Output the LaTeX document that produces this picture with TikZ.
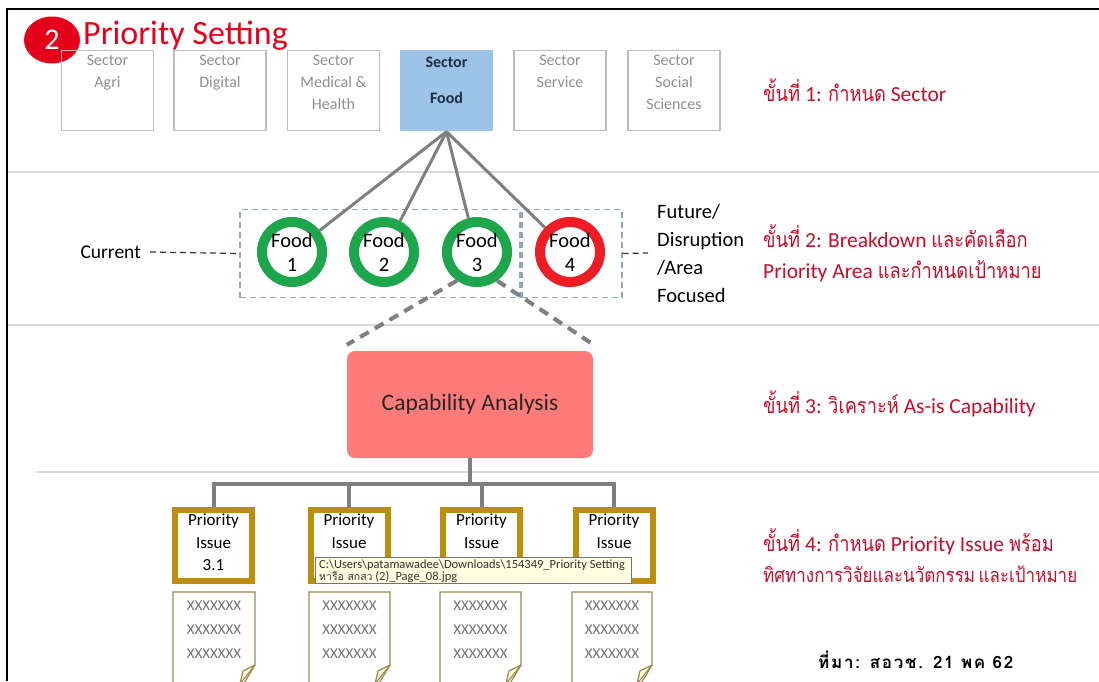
\documentclass[tikz,border=0pt]{standalone}
\usepackage{fontspec}
\setmainfont{Carlito}
\newfontfamily\thaifont[Script=Thai,WordSpace=0.6,FakeStretch=0.85]{Loma}
\newfontfamily\tipthai[Script=Thai]{Loma}
\newfontfamily\srcfont[Script=Thai,LetterSpace=10]{Loma}
\newcommand\tf[1]{{\thaifont #1}}
\usetikzlibrary{calc,shapes.geometric}
\definecolor{sgray}{HTML}{8F8F8F}
\definecolor{sborder}{HTML}{BDBDBD}
\definecolor{foodfill}{HTML}{9DC3E6}
\definecolor{foodtxt}{HTML}{1F2D45}
\definecolor{stepred}{HTML}{C40E2A}
\definecolor{titlered}{HTML}{E4001B}
\definecolor{ringgreen}{HTML}{1EA64C}
\definecolor{ringred}{HTML}{EE1C24}
\definecolor{linegray}{HTML}{7F7F7F}
\definecolor{dashblue}{HTML}{8DA5BE}
\definecolor{capfill}{HTML}{FF7B7B}
\definecolor{gold}{HTML}{BC8E0C}
\definecolor{paperline}{HTML}{9C8A4E}
\definecolor{tipfill}{HTML}{FFFFE1}
\definecolor{sepgray}{HTML}{D9D9D9}
\tikzset{
  sectbox/.style={draw=sborder, line width=1.3pt, minimum width=92pt, minimum height=80pt, inner sep=0pt},
  secttxt/.style={anchor=north, text=sgray, font=\fontsize{16}{22}\selectfont, align=center, inner sep=0pt},
  ring/.style={circle, line width=10pt, minimum size=60pt, inner sep=0pt, align=center, font=\fontsize{20.5}{24}\selectfont},
  conn/.style={draw=linegray, line width=3pt},
  dbox/.style={draw=dashblue, line width=1.2pt, dash pattern=on 6pt off 4pt, inner sep=0pt},
  blackdash/.style={draw=black!80, line width=1.2pt, dash pattern=on 6pt off 4pt},
  gdash/.style={draw=linegray, line width=4pt, dash pattern=on 10pt off 7pt},
  tree/.style={draw=linegray, line width=4pt},
  pbox/.style={draw=gold, line width=6pt, minimum width=77pt, minimum height=71pt, inner sep=0pt},
  ptxt/.style={anchor=north, inner sep=0pt, align=center, font=\fontsize{17}{22.5}\selectfont},
  paper/.style={draw=paperline, line width=1.2pt, fill=white},
  xtxt/.style={text=black!55, font=\fontsize{15}{16}\selectfont, inner sep=0pt},
  steptxt/.style={anchor=west, text=stepred, inner sep=0pt, align=left, font=\fontsize{21.5}{31}\selectfont},
  sep/.style={draw=sepgray, line width=1.5pt}
}
\begin{document}
\begin{tikzpicture}[x=1pt,y=-1pt]
\useasboundingbox (0,0) rectangle (1099,681);
% frame and separators
\draw[line width=2pt] (7,681) -- (7,9) -- (1099,9);
\draw[sep] (8,172) -- (1099,172);
\draw[sep] (8,325) -- (1099,325);
\draw[sep] (37,472) -- (1099,472);
% title
\node[ellipse, fill=titlered, minimum width=56pt, minimum height=47pt, inner sep=0pt, text=white, font=\fontsize{30}{30}\selectfont] (num) at (52,40) {2};
\node[anchor=west, inner sep=0pt, text=titlered, font=\fontsize{34}{34}\selectfont] (title) at (83,36) {Priority Setting};
% sectors
\node[sectbox] (s1) at (107.5,90.5) {};
\node[sectbox] (s2) at (220,90.5) {};
\node[sectbox] (s3) at (333.5,90.5) {};
\node[sectbox, draw=none, fill=foodfill, minimum width=93pt, minimum height=81pt] (s4) at (446.5,90.5) {};
\node[sectbox] (s5) at (560,90.5) {};
\node[sectbox] (s6) at (674,90.5) {};
\node[secttxt] (t1) at (107.5,55) {Sector\\Agri};
\node[secttxt] (t2) at (220,55) {Sector\\Digital};
\node[secttxt] (t3) at (333.5,55) {Sector\\Medical \&\\Health};
\node[secttxt, text=foodtxt, font=\fontsize{16}{22}\selectfont\bfseries] (t4) at (446.5,57) {Sector\\[14pt]Food};
\node[secttxt] (t5) at (560,55) {Sector\\Service};
\node[secttxt] (t6) at (674,55) {Sector\\Social\\Sciences};
% dashed groups
\node[dbox, minimum width=280pt, minimum height=88pt] (gl) at (380,253.5) {};
\node[dbox, minimum width=100pt, minimum height=88pt] (gr) at (572,253.5) {};
% food circles
\node[ring, draw=ringgreen] (f1) at (292,252) {Food\\1};
\node[ring, draw=ringgreen] (f2) at (384,252) {Food\\2};
\node[ring, draw=ringgreen] (f3) at (477,252) {Food\\3};
\node[ring, draw=ringred] (f4) at (570,252) {Food\\4};
% connectors sector -> foods
\draw[conn] (s4.south) -- (f1);
\draw[conn] (s4.south) -- (f2);
\draw[conn] (s4.south) -- (f3);
\draw[conn] (s4.south) -- (f4);
% labels
\node[anchor=east, inner sep=0pt, font=\fontsize{19.5}{19.5}\selectfont] (cur) at (141,252) {Current};
\draw[blackdash] ([xshift=9pt]cur.east) -- (gl.west);
\node[anchor=west, inner sep=0pt, align=left, font=\fontsize{20.5}{28}\selectfont] (fut) at (657,253) {Future/\\Disruption\\/Area\\Focused};
\draw[blackdash] (gr.east) -- ([xshift=-9pt]fut.west);
% capability
\node[fill=capfill, rounded corners=8pt, minimum width=246pt, minimum height=107pt, inner sep=0pt, text=black!85, font=\fontsize{23.5}{23.5}\selectfont] (cap) at (470,404.5) {Capability Analysis};
\draw[gdash] (f3.235) -- ([shift={(0pt,6pt)}]cap.north west);
\draw[gdash] (f3.305) -- ([shift={(2pt,5pt)}]cap.north east);
% priority issues
\node[pbox] (p1) at (213.5,545.5) {};
\node[pbox] (p2) at (349,545.5) {};
\node[pbox] (p3) at (481.5,545.5) {};
\node[pbox] (p4) at (614,545.5) {};
\node[ptxt] (pt1) at (213.5,514) {Priority\\Issue\\3.1};
\node[ptxt] (pt2) at (349,514) {Priority\\Issue};
\node[ptxt] (pt3) at (481.5,514) {Priority\\Issue};
\node[ptxt] (pt4) at (614,514) {Priority\\Issue};
\coordinate (bus) at (470,484);
\draw[tree] (cap.south) -- (bus);
\draw[tree] (p1.north) -- (p1.north |- bus) -- (p4.north |- bus) -- (p4.north);
\draw[tree] (p2.north) -- (p2.north |- bus);
\draw[tree] (p3.north) -- (p3.north |- bus);
% papers
\foreach \xa/\xb/\n in {173/255/1, 309/390/2, 440/521/3, 572/652/4}{
  \draw[paper] (\xa,690) -- (\xa,592) -- (\xb,592) -- (\xb,665) -- (\xb-15,690);
  \draw[paper, fill=tipfill, line join=round] (\xb,665) -- (\xb-12,671) -- (\xb-15,684) -- cycle;
  \node[xtxt] (xa\n) at ({(\xa+\xb)/2},606) {XXXXXXX};
  \node[xtxt] (xb\n) at ({(\xa+\xb)/2},630) {XXXXXXX};
  \node[xtxt] (xc\n) at ({(\xa+\xb)/2},654) {XXXXXXX};
}
% tooltip
\node[draw=black!55, fill=tipfill, line width=0.8pt, minimum width=316pt, minimum height=26pt, inner sep=0pt] (tip) at (473,570.5) {};
\node[anchor=north west, inner sep=0pt, align=left, text=black!80, font=\fontsize{12.5}{12}\selectfont] (tiptxt) at (319,560) {C:\textbackslash Users\textbackslash patamawadee\textbackslash Downloads\textbackslash 154349\_Priority Setting\\{\tipthai\fontsize{10.5}{12}\selectfont หารือ สกสว} (2)\_Page\_08.jpg};
% steps
\node[steptxt] (st1) at (763,90) {\tf{ขั้นที่} 1: \tf{กำหนด} Sector};
\node[steptxt] (st2) at (763,253) {\tf{ขั้นที่} 2: Breakdown \tf{และคัดเลือก}\\Priority Area \tf{และกำหนดเป้าหมาย}};
\node[steptxt] (st3) at (763,404) {\tf{ขั้นที่} 3: \tf{วิเคราะห์} As-is Capability};
\node[steptxt] (st4) at (763,556) {\tf{ขั้นที่} 4: \tf{กำหนด} Priority Issue \tf{พร้อม}\\{\fontsize{20}{31}\selectfont\tf{ทิศทางการวิจัยและนวัตกรรม และเป้าหมาย}}};
\node[anchor=west, inner sep=0pt, font=\srcfont\bfseries\fontsize{17}{17}\selectfont] (src) at (818,660) {ที่มา: สอวช. 21 พค 62};
\end{tikzpicture}
\end{document}
